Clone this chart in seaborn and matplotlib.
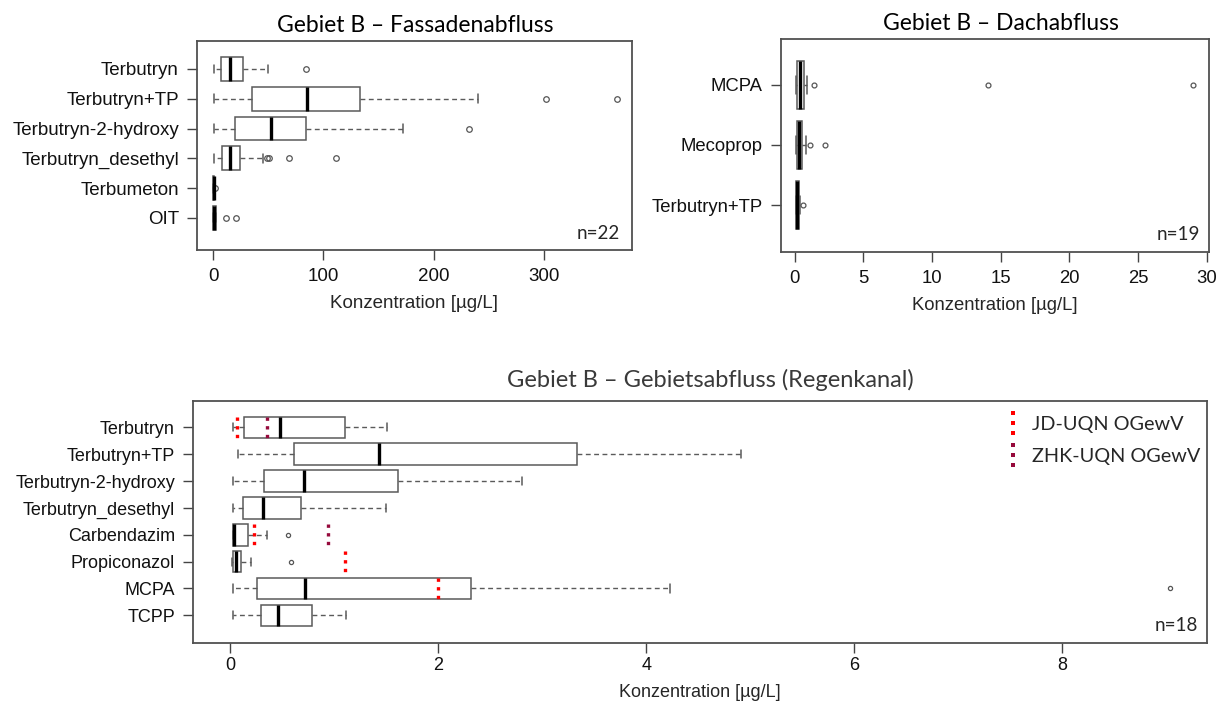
import matplotlib
matplotlib.use('Agg')
import matplotlib.pyplot as plt
import pandas as pd
import seaborn as sns
from matplotlib.lines import Line2D
from matplotlib.path import Path

# Gebiet B - Fassadenabfluss (n=22), Werte in µg/L
fass_names = ['Terbutryn', 'Terbutryn+TP', 'Terbutryn-2-hydroxy',
              'Terbutryn_desethyl', 'Terbumeton', 'OIT']
fass_lo = [0.6, 0.6, 0.6, 0.6, 0.1, 0.05]
fass_q1 = [7.5, 35, 19.6, 8.4, 0.3, 0.3]
fass_med = [15, 85, 52.7, 15, 0.5, 1.0]
fass_q3 = [27, 133, 84.3, 24, 0.7, 2.2]
fass_hi = [50, 240, 172, 45, 0.9, 3.0]
fass_out = [[84], [302, 366], [232.5], [48.8, 50.3, 69.3, 111.4], [1.6], [11.4, 21.0]]

# Gebiet B - Dachabfluss (n=19)
dach_names = ['MCPA', 'Mecoprop', 'Terbutryn+TP']
dach_lo = [0.12, 0.12, 0.10]
dach_q1 = [0.18, 0.17, 0.12]
dach_med = [0.38, 0.32, 0.15]
dach_q3 = [0.64, 0.52, 0.28]
dach_hi = [0.88, 0.80, 0.40]
dach_out = [[1.38, 14.1, 29.0], [1.09, 2.18], [0.6]]

# Gebiet B - Gebietsabfluss (Regenkanal) (n=18)
geb_names = ['Terbutryn', 'Terbutryn+TP', 'Terbutryn-2-hydroxy', 'Terbutryn_desethyl',
             'Carbendazim', 'Propiconazol', 'MCPA', 'TCPP']
geb_lo = [0.026, 0.074, 0.026, 0.026, 0.020, 0.018, 0.026, 0.026]
geb_q1 = [0.13, 0.61, 0.32, 0.12, 0.025, 0.020, 0.26, 0.29]
geb_med = [0.48, 1.43, 0.71, 0.31, 0.030, 0.058, 0.72, 0.46]
geb_q3 = [1.10, 3.33, 1.61, 0.68, 0.17, 0.105, 2.31, 0.78]
geb_hi = [1.51, 4.91, 2.80, 1.50, 0.355, 0.195, 4.23, 1.11]
geb_out = [[], [], [], [], [0.55], [0.58], [9.03], []]

# Umweltqualitätsnormen (OGewV)
jd_names = ['Terbutryn', 'Carbendazim', 'Propiconazol', 'MCPA']
jd_values = [0.065, 0.23, 1.1, 2.0]
zhk_names = ['Terbutryn', 'Carbendazim']
zhk_values = [0.35, 0.94]

RED = '#ff0000'
MAROON = '#960a3c'
BOX = '#5a5a5a'
FRAME = '#505050'

sns.set_theme(style='ticks')
plt.rcParams['font.family'] = ['Liberation Sans', 'DejaVu Sans']
TITLE_FONT = ['Lato', 'DejaVu Sans']


def expand(lo, q1, med, q3, hi, out):
    # observations that reproduce the read five-number summary
    return [lo] + [q1] * 10 + [med] * 10 + [q3] * 10 + [hi] + list(out)


def draw_panel(ax, names, lo, q1, med, q3, hi, out, flier, fs):
    rows = []
    for i, name in enumerate(names):
        for v in expand(lo[i], q1[i], med[i], q3[i], hi[i], out[i]):
            rows.append((name, v))
    df = pd.DataFrame(rows, columns=['Stoff', 'Konzentration'])
    sns.boxplot(data=df, x='Konzentration', y='Stoff', order=names, orient='h',
                ax=ax, color='white', linecolor=BOX, linewidth=1.1, width=0.8,
                capwidths=0.3,
                whiskerprops=dict(linestyle=(0, (3.5, 2.5)), linewidth=1.0),
                medianprops=dict(color='black', linewidth=2.4),
                flierprops=dict(marker='o', markerfacecolor='none',
                                markeredgecolor='#555555', markersize=flier,
                                markeredgewidth=0.9))
    ax.set_ylabel('')
    ax.set_xlabel('Konzentration [µg/L]', fontsize=fs, labelpad=7)
    for s in ax.spines.values():
        s.set_visible(True)
        s.set_color(FRAME)
        s.set_linewidth(1.3)
    ax.tick_params(direction='out', length=7, width=1.0, color='#444444',
                   labelsize=fs, pad=6, labelcolor='#111111')


fig = plt.figure(figsize=(12.27, 7.02), dpi=100)
W, H = 1227, 702


def axes_px(l, t, r, b):
    return fig.add_axes([l / W, 1 - b / H, (r - l) / W, (b - t) / H])


ax1 = axes_px(197, 41, 632, 250)
ax2 = axes_px(781, 39, 1209, 252)
ax3 = axes_px(193, 401, 1207, 643)

draw_panel(ax1, fass_names, fass_lo, fass_q1, fass_med, fass_q3, fass_hi, fass_out, 4.0, 13.5)
ax1.set_xlim(-14.6, 380)
ax1.set_ylim(6.08, -0.94)
ax1.set_xticks([0, 100, 200, 300])
ax1.text(0.973, 0.081, 'n=22', transform=ax1.transAxes, ha='right', va='center',
         fontsize=13.5, family=TITLE_FONT)

draw_panel(ax2, dach_names, dach_lo, dach_q1, dach_med, dach_q3, dach_hi, dach_out, 3.5, 13.3)
ax2.set_xlim(-1.0, 30.17)
ax2.set_ylim(2.78, -0.76)
ax2.set_xticks([0, 5, 10, 15, 20, 25, 30])
ax2.text(0.978, 0.083, 'n=19', transform=ax2.transAxes, ha='right', va='center',
         fontsize=13.5, family=TITLE_FONT)

draw_panel(ax3, geb_names, geb_lo, geb_q1, geb_med, geb_q3, geb_hi, geb_out, 3.0, 13)
ax3.set_xlim(-0.36, 9.39)
ax3.set_ylim(8.03, -0.98)
ax3.set_xticks([0, 2, 4, 6, 8])
ax3.tick_params(axis='x', pad=3)
ax3.xaxis.labelpad = 7
ax3.text(0.991, 0.073, 'n=18', transform=ax3.transAxes, ha='right', va='center',
         fontsize=13.5, family=TITLE_FONT)

# UQN markers as dotted vertical segments
dot_style = dict(linestyles=[(0, (1, 1.6))], linewidth=2.4, capstyle='butt', zorder=5)
for name, v in zip(jd_names, jd_values):
    y = geb_names.index(name)
    ax3.vlines(v, y - 0.39, y + 0.39, colors=RED, **dot_style)
for name, v in zip(zhk_names, zhk_values):
    y = geb_names.index(name)
    ax3.vlines(v, y - 0.39, y + 0.39, colors=MAROON, **dot_style)

verts, codes = [], []
for cy in (-1, 0, 1):
    s = 0.19
    verts += [(-s, cy - s), (s, cy - s), (s, cy + s), (-s, cy + s), (-s, cy - s)]
    codes += [Path.MOVETO, Path.LINETO, Path.LINETO, Path.LINETO, Path.CLOSEPOLY]
dots = Path(verts, codes)
handles = [Line2D([], [], linestyle='none', marker=dots, markersize=17,
                  markerfacecolor=c, markeredgewidth=0) for c in (RED, MAROON)]
ax3.legend(handles, ['JD-UQN OGewV', 'ZHK-UQN OGewV'], loc='upper left',
           bbox_to_anchor=(0.783, 1.012), frameon=False, handlelength=0.8,
           handletextpad=0.55, labelspacing=0.75,
           prop=dict(family=TITLE_FONT, size=14.3))

fig.text(415 / W, 1 - 25 / H, 'Gebiet B – Fassadenabfluss', ha='center', va='center',
         fontsize=16.5, family=TITLE_FONT, color='black')
fig.text(1001 / W, 1 - 23 / H, 'Gebiet B – Dachabfluss', ha='center', va='center',
         fontsize=16.5, family=TITLE_FONT, color='black')
fig.text(710 / W, 1 - 380 / H, 'Gebiet B – Gebietsabfluss (Regenkanal)', ha='center',
         va='center', fontsize=17, family=TITLE_FONT, color='#3a3a3a')

fig.savefig('out.png', dpi=100)
